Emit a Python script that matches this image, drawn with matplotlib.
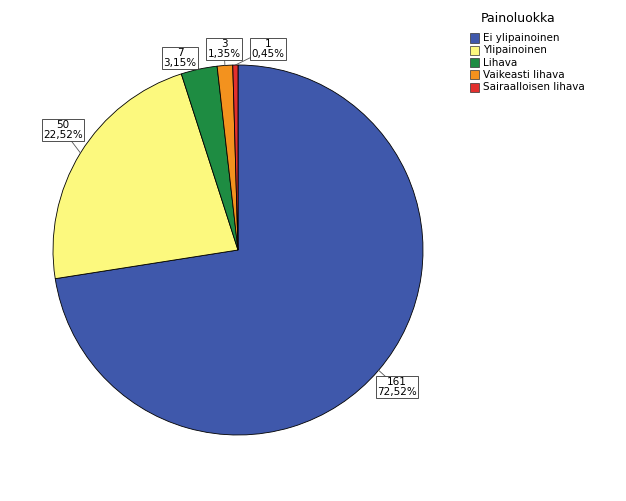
import matplotlib
matplotlib.use("Agg")
import matplotlib.pyplot as plt
import numpy as np

categories = ["Ei ylipainoinen", "Ylipainoinen", "Lihava", "Vaikeasti lihava", "Sairaalloisen lihava"]
counts = [161, 50, 7, 3, 1]
percents = ["72,52%", "22,52%", "3,15%", "1,35%", "0,45%"]
colors = ["#3F58AB", "#FCF97E", "#1E8C42", "#F3921E", "#E2302E"]

fig = plt.figure(figsize=(6.26, 5.01), dpi=100)
ax = fig.add_axes([0, 0, 1, 1])
ax.set_xlim(0, 626)
ax.set_ylim(0, 501)
ax.set_aspect("equal")
ax.axis("off")

cx, cy, r = 238, 251, 185
wedges, _ = ax.pie(counts, colors=colors, startangle=90, counterclock=False,
                   center=(cx, cy), radius=r, frame=True,
                   wedgeprops=dict(edgecolor="black", linewidth=0.6))
ax.set_xlim(0, 626); ax.set_ylim(0, 501); ax.axis("off")

label_pos = [(397, 114), (63, 371), (180, 443), (224, 452), (268, 452)]
for w, c, p, (lx, ly) in zip(wedges, counts, percents, label_pos):
    ang = np.deg2rad((w.theta1 + w.theta2) / 2)
    ex, ey = cx + r * np.cos(ang), cy + r * np.sin(ang)
    ax.plot([ex, lx], [ey, ly], color="#555555", lw=0.6, zorder=3)
    ax.text(lx, ly, f"{c}\n{p}", ha="center", va="center", fontsize=7.5,
            linespacing=0.95, zorder=4,
            bbox=dict(boxstyle="square,pad=0.15", fc="white", ec="#333333", lw=0.6))

fig.text(518/626, 1 - 18/501, "Painoluokka", ha="center", va="center", fontsize=9)
for i, (cat, col) in enumerate(zip(categories, colors)):
    y = 38 + i * 12.3
    fig.patches.append(plt.Rectangle((470/626, 1 - (y + 4.5)/501), 9/626, 9/501,
                                     transform=fig.transFigure, fc=col, ec="#333333", lw=0.5))
    fig.text(483/626, 1 - y/501, cat, ha="left", va="center", fontsize=7.5)

fig.savefig("out.png", dpi=100)
